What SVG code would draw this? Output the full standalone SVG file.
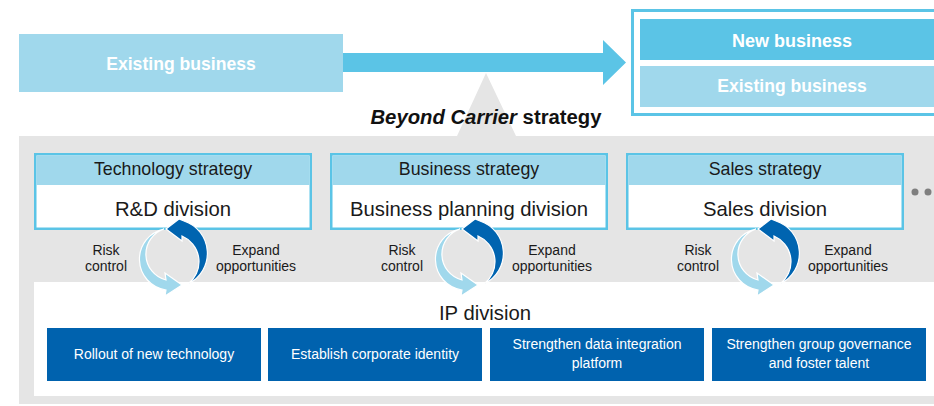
<svg xmlns="http://www.w3.org/2000/svg" width="934" height="406" viewBox="0 0 934 406">
  <style>
    text { font-family: "Liberation Sans", Arial, sans-serif; }
    .biz { fill: #ffffff; font-weight: bold; text-anchor: middle; }
    .hdr { fill: #1a1a1a; font-size: 17.8px; text-anchor: middle; }
    .div { fill: #1a1a1a; font-size: 20.3px; text-anchor: middle; }
    .lbl { fill: #1a1a1a; font-size: 14px; text-anchor: middle; }
    .act { fill: #ffffff; font-size: 14px; text-anchor: middle; }
    .frame { fill: #ffffff; stroke: #5bc4e6; stroke-width: 2.5; }
    .band { fill: #a0d8ec; }
    .blue { fill: #0062ae; }
  </style>
  <defs>
    <!-- pair of curved arrows forming a cycle, drawn around (174,256) -->
    <g id="cycle">
      <path d="M164 229 A31 31 0 0 0 166 290 L165 296 L182 285 L165 273 L166 280 A26.6 26.6 0 0 1 164 229 Z" fill="#a0d8ec" stroke="#ffffff" stroke-width="1.2"/>
      <path d="M188 284 A34 34 0 0 0 184 221 L179 219 L166 229 L182 241 L182 236 A28 28 0 0 1 188 284 Z" fill="#0064b0" stroke="#ffffff" stroke-width="1.2"/>
    </g>
  </defs>

  <!-- grey base with pointer toward the transition arrow -->
  <path d="M19 136 L457 136 L486 73 L516 136 L934 136 L934 404 L19 404 Z" fill="#e5e5e5"/>
  <rect x="34" y="282" width="900" height="114" fill="#ffffff"/>

  <!-- current state -->
  <g id="existing-business">
    <rect class="band" x="19" y="34" width="324" height="58"/>
    <text class="biz" x="181" y="70" font-size="17.6">Existing business</text>
  </g>

  <!-- target state -->
  <g id="future-business">
    <rect x="632.5" y="10.5" width="320" height="104" fill="#ffffff" stroke="#5bc4e6" stroke-width="3"/>
    <rect x="640" y="19" width="300" height="41" fill="#5bc4e6"/>
    <text class="biz" x="792" y="47" font-size="18">New business</text>
    <rect class="band" x="640" y="66" width="300" height="41"/>
    <text class="biz" x="792" y="92" font-size="17.6">Existing business</text>
  </g>

  <g id="strategy-title">
    <text x="486" y="124" text-anchor="middle" font-size="20.3" font-weight="bold" fill="#111111"><tspan font-style="italic">Beyond Carrier</tspan> strategy</text>
  </g>

  <!-- strategy / division boxes -->
  <g id="technology">
    <rect class="frame" x="35.25" y="154.25" width="275.5" height="74.5"/>
    <rect class="band" x="36.5" y="155.5" width="273" height="29.5"/>
    <text class="hdr" x="173" y="175">Technology strategy</text>
    <text class="div" x="173" y="216">R&amp;D division</text>
  </g>
  <g id="business">
    <rect class="frame" x="331.25" y="154.25" width="275.5" height="74.5"/>
    <rect class="band" x="332.5" y="155.5" width="273" height="29.5"/>
    <text class="hdr" x="469" y="175">Business strategy</text>
    <text class="div" x="469" y="216">Business planning division</text>
  </g>
  <g id="sales">
    <rect class="frame" x="627.25" y="154.25" width="275.5" height="74.5"/>
    <rect class="band" x="628.5" y="155.5" width="273" height="29.5"/>
    <text class="hdr" x="765" y="175">Sales strategy</text>
    <text class="div" x="765" y="216">Sales division</text>
  </g>
  <g id="more">
    <circle cx="915" cy="192" r="3.5" fill="#7f7f7f"/>
    <circle cx="928" cy="192" r="3.5" fill="#7f7f7f"/>
  </g>

  <!-- cycle labels -->
  <g id="cycle-labels">
    <text class="lbl" x="106" y="255">Risk</text>
    <text class="lbl" x="106" y="271">control</text>
    <text class="lbl" x="256" y="255">Expand</text>
    <text class="lbl" x="256" y="271">opportunities</text>
    <text class="lbl" x="402" y="255">Risk</text>
    <text class="lbl" x="402" y="271">control</text>
    <text class="lbl" x="552" y="255">Expand</text>
    <text class="lbl" x="552" y="271">opportunities</text>
    <text class="lbl" x="698" y="255">Risk</text>
    <text class="lbl" x="698" y="271">control</text>
    <text class="lbl" x="848" y="255">Expand</text>
    <text class="lbl" x="848" y="271">opportunities</text>
  </g>

  <g id="ip-division">
    <text class="div" x="485" y="320">IP division</text>
    <rect class="blue" x="47" y="328" width="214" height="53"/>
    <text class="act" x="154" y="359">Rollout of new technology</text>
    <rect class="blue" x="268" y="328" width="214" height="53"/>
    <text class="act" x="375" y="359">Establish corporate identity</text>
    <rect class="blue" x="490" y="328" width="214" height="53"/>
    <text class="act" x="597" y="349">Strengthen data integration</text>
    <text class="act" x="597" y="368">platform</text>
    <rect class="blue" x="712" y="328" width="214" height="53"/>
    <text class="act" x="819" y="349">Strengthen group governance</text>
    <text class="act" x="819" y="368">and foster talent</text>
  </g>

  <!-- connectors -->
  <g id="connectors">
    <path d="M343 53 L603 53 L603 40 L626 62.5 L603 85 L603 72 L343 72 Z" fill="#5bc4e6"/>
    <use href="#cycle"/>
    <use href="#cycle" transform="translate(296 0)"/>
    <use href="#cycle" transform="translate(592 0)"/>
  </g>
</svg>
